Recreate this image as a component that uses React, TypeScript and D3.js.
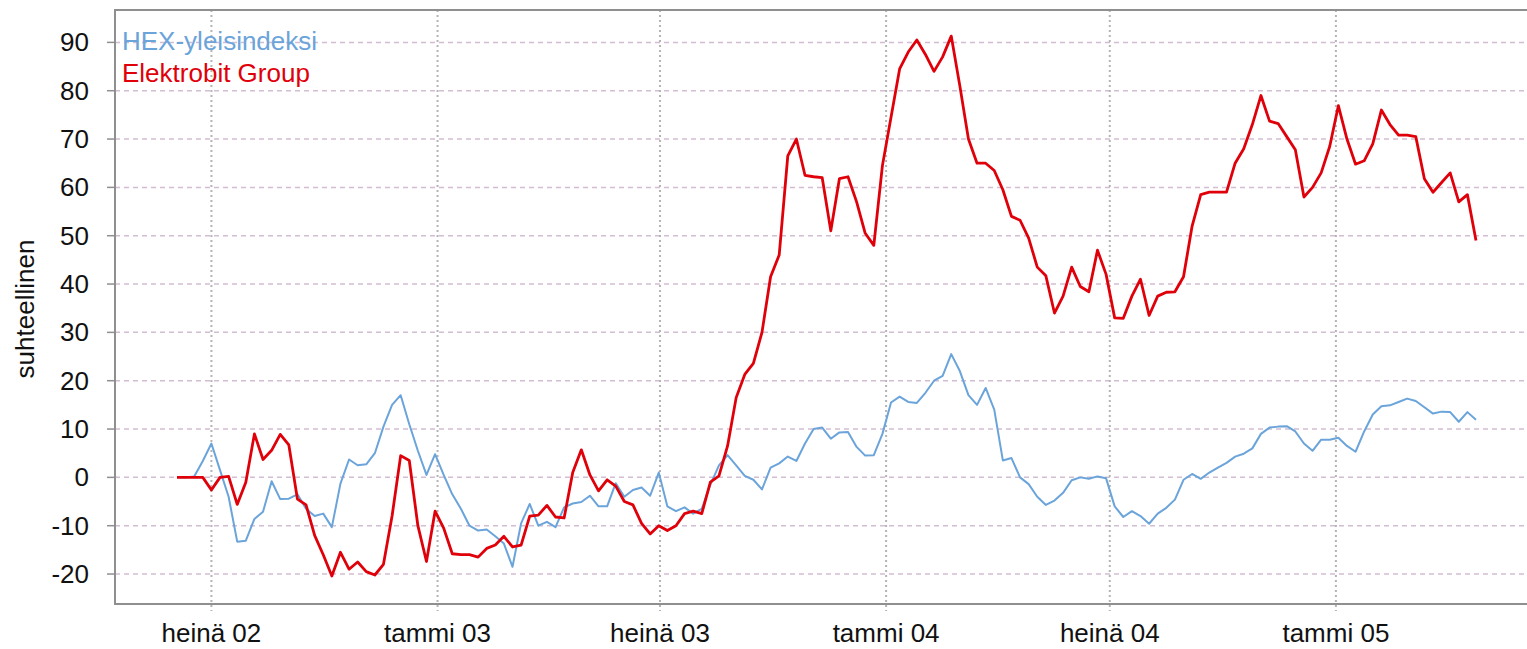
import { useEffect, useRef } from "react";
import * as d3 from "d3";

// viikkoarvot, suhteellinen muutos (%) alkaen 3.6.2002
const firstWeek = new Date(2002, 5, 3);

const hexValues = [
  0, 0, 0.2, 3.4, 7.0, 1.5, -4.0, -13.3, -13.1, -8.6,
  -7.1, -0.8, -4.5, -4.4, -3.5, -6.5, -8.0, -7.5, -10.3, -1.3,
  3.7, 2.5, 2.7, 5.0, 10.5, 15.0, 17.0, 11.0, 5.5, 0.5,
  4.8, 0.5, -3.5, -6.5, -10.0, -11.0, -10.8, -12.2, -13.7, -18.5,
  -9.5, -5.5, -10.0, -9.2, -10.3, -6.2, -5.4, -5.1, -3.8, -6.0,
  -6.0, -1.2, -4.0, -2.6, -2.1, -3.8, 1.0, -6.0, -7.0, -6.2,
  -7.5, -6.5, -1.5, 2.5, 4.6, 2.5, 0.3, -0.5, -2.5, 2.0,
  2.9, 4.3, 3.4, 7.0, 10.0, 10.3, 8.0, 9.3, 9.4, 6.3,
  4.5, 4.6, 9.0, 15.5, 16.7, 15.6, 15.4, 17.5, 20.0, 21.0,
  25.5, 22.0, 17.0, 15.0, 18.5, 14.0, 3.5, 4.0, 0.0, -1.4,
  -4.0, -5.7, -4.8, -3.2, -0.6, 0.0, -0.3, 0.2, -0.2, -6.0,
  -8.2, -7.0, -8.0, -9.6, -7.5, -6.3, -4.6, -0.5, 0.7, -0.3,
  1.0, 2.0, 3.0, 4.3, 4.9, 6.0, 9.0, 10.3, 10.5, 10.6,
  9.5, 7.0, 5.5, 7.8, 7.8, 8.2, 6.5, 5.3, 9.5, 13.0,
  14.7, 14.9, 15.6, 16.3, 15.8, 14.5, 13.2, 13.6, 13.5, 11.5,
  13.5, 11.9,
];

const ebgValues = [
  0, 0, 0, 0, -2.6, 0, 0.2, -5.6, -1.0, 9.0,
  3.7, 5.6, 8.9, 6.7, -4.5, -5.7, -12.0, -16.0, -20.4, -15.5,
  -19.0, -17.5, -19.5, -20.2, -18.0, -8.0, 4.5, 3.5, -10.0, -17.4,
  -7.0, -10.5, -15.8, -16.0, -16.0, -16.5, -14.7, -14.0, -12.2, -14.4,
  -14.0, -8.0, -7.8, -5.8, -8.2, -8.4, 1.0, 5.7, 0.5, -2.8,
  -0.5, -1.8, -5.0, -5.7, -9.5, -11.7, -10.0, -11.0, -10.0, -7.5,
  -7.0, -7.5, -1.0, 0.3, 6.5, 16.5, 21.3, 23.6, 30.0, 41.5,
  46.0, 66.5, 70.0, 62.5, 62.2, 62.0, 51.0, 61.8, 62.2, 57.0,
  50.5, 48.0, 64.5, 74.5, 84.5, 88.0, 90.5, 87.5, 84.0, 87.0,
  91.3, 81.0, 70.0, 65.0, 65.0, 63.5, 59.5, 54.0, 53.2, 49.5,
  43.5, 41.7, 34.0, 37.5, 43.5, 39.5, 38.4, 47.0, 42.0, 33.0,
  32.9, 37.5, 41.0, 33.5, 37.5, 38.3, 38.4, 41.5, 52.0, 58.5,
  59.0, 59.0, 59.0, 65.0, 68.0, 73.0, 79.0, 73.7, 73.2, 70.5,
  67.8, 58.0, 60.0, 63.0, 68.5, 76.9, 70.0, 64.8, 65.5, 69.0,
  76.0, 73.0, 70.8, 70.8, 70.5, 61.8, 59.0, 61.0, 63.0, 57.0,
  58.5, 49.0,
];

const weeks = hexValues.map((_, i) => d3.timeWeek.offset(firstWeek, i));

const seriesNames = ["HEX-yleisindeksi", "Elektrobit Group"];
const seriesColors = ["#6ba4da", "#e0000a"];

const yTicks = [-20, -10, 0, 10, 20, 30, 40, 50, 60, 70, 80, 90];
const xTicks = [
  new Date(2002, 6, 1),
  new Date(2003, 0, 1),
  new Date(2003, 6, 1),
  new Date(2004, 0, 1),
  new Date(2004, 6, 1),
  new Date(2005, 0, 1),
];
const xTickLabels = ["heinä 02", "tammi 03", "heinä 03", "tammi 04", "heinä 04", "tammi 05"];
const yTitle = "suhteellinen";

export default function App() {
  const width = 1527;
  const height = 649;
  const plot = { left: 115, top: 10, bottom: 604 };
  const svgRef = useRef<SVGSVGElement | null>(null);

  useEffect(() => {
    if (!svgRef.current) return;
    const svg = d3.select(svgRef.current);
    svg.selectAll("*").remove();

    const font = "'Liberation Sans', Arial, sans-serif";

    const xScale = d3
      .scaleTime()
      .domain([weeks[0], weeks[weeks.length - 1]])
      .range([177, 1476]);

    const yScale = d3.scaleLinear().domain([-26.2, 96.7]).range([plot.bottom, plot.top]);

    // vaakasuorat apuviivat
    svg
      .append("g")
      .selectAll("line")
      .data(yTicks)
      .enter()
      .append("line")
      .attr("x1", plot.left)
      .attr("x2", width + 10)
      .attr("y1", (d) => yScale(d))
      .attr("y2", (d) => yScale(d))
      .attr("stroke", "#d2bdd2")
      .attr("stroke-width", 1.5)
      .attr("stroke-dasharray", "5,4");

    // pystysuorat apuviivat
    svg
      .append("g")
      .selectAll("line")
      .data(xTicks)
      .enter()
      .append("line")
      .attr("x1", (d) => xScale(d))
      .attr("x2", (d) => xScale(d))
      .attr("y1", plot.top)
      .attr("y2", plot.bottom + 7)
      .attr("stroke", "#b4b4b4")
      .attr("stroke-width", 2)
      .attr("stroke-dasharray", "2,3");

    // y-akselin merkit ja numerot
    const yAxis = svg.append("g");
    yAxis
      .selectAll("line")
      .data(yTicks)
      .enter()
      .append("line")
      .attr("x1", plot.left - 8)
      .attr("x2", plot.left)
      .attr("y1", (d) => yScale(d))
      .attr("y2", (d) => yScale(d))
      .attr("stroke", "#8f8f8f")
      .attr("stroke-width", 1.5);
    yAxis
      .selectAll("text")
      .data(yTicks)
      .enter()
      .append("text")
      .attr("x", 89)
      .attr("y", (d) => yScale(d) + 9)
      .attr("text-anchor", "end")
      .attr("font-family", font)
      .attr("font-size", 26)
      .attr("fill", "#111")
      .text((d) => String(d));

    // x-akselin numerot
    svg
      .append("g")
      .selectAll("text")
      .data(xTicks)
      .enter()
      .append("text")
      .attr("x", (d) => xScale(d))
      .attr("y", 642)
      .attr("text-anchor", "middle")
      .attr("font-family", font)
      .attr("font-size", 26)
      .attr("fill", "#111")
      .text((_, i) => xTickLabels[i]);

    svg
      .append("text")
      .attr("transform", `translate(34,309) rotate(-90)`)
      .attr("text-anchor", "middle")
      .attr("font-family", font)
      .attr("font-size", 26)
      .attr("fill", "#111")
      .text(yTitle);

    // kehys
    svg
      .append("rect")
      .attr("x", plot.left)
      .attr("y", plot.top)
      .attr("width", width)
      .attr("height", plot.bottom - plot.top)
      .attr("fill", "none")
      .attr("stroke", "#8f8f8f")
      .attr("stroke-width", 2);

    const line = d3
      .line<number>()
      .x((_, i) => xScale(weeks[i]))
      .y((d) => yScale(d));

    [hexValues, ebgValues].forEach((values, si) => {
      svg
        .append("path")
        .datum(values)
        .attr("d", line)
        .attr("fill", "none")
        .attr("stroke", seriesColors[si])
        .attr("stroke-width", si === 0 ? 2 : 2.8)
        .attr("stroke-linejoin", "round");
    });

    // selite
    svg
      .append("g")
      .selectAll("text")
      .data(seriesNames)
      .enter()
      .append("text")
      .attr("x", 122)
      .attr("y", (_, i) => 50 + i * 32)
      .attr("font-family", font)
      .attr("font-size", 26)
      .attr("fill", (_, i) => seriesColors[i])
      .text((d) => d);
  }, []);

  return (
    <div style={{ position: "absolute", left: 0, top: 0 }}>
      <svg ref={svgRef} width={width} height={height} style={{ display: "block", background: "#fff" }} />
    </div>
  );
}
